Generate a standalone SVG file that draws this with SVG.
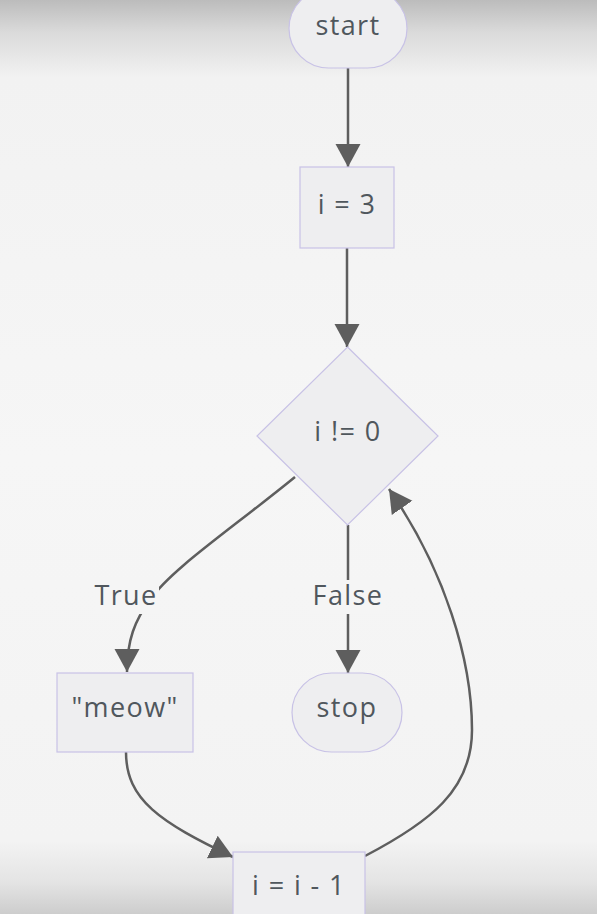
<svg xmlns="http://www.w3.org/2000/svg" width="597" height="914" viewBox="0 0 597 914">
  <defs>
    <linearGradient id="bg" x1="0" y1="0" x2="0" y2="1">
      <stop offset="0" stop-color="#bcbcbc"/>
      <stop offset="0.035" stop-color="#dadada"/>
      <stop offset="0.085" stop-color="#f2f2f2"/>
      <stop offset="0.5" stop-color="#f6f6f6"/>
      <stop offset="0.92" stop-color="#f3f3f3"/>
      <stop offset="0.965" stop-color="#e4e4e4"/>
      <stop offset="1" stop-color="#cdcdcd"/>
    </linearGradient>
    <marker id="arrow" markerUnits="userSpaceOnUse" markerWidth="26" markerHeight="28" viewBox="0 0 26 28" refX="23" refY="14" orient="auto">
      <path d="M0,1.5 L23,14 L0,26.5 Z" fill="#5e5e5e"/>
    </marker>
  </defs>
  <style>
    .node { fill: #eeeef0; stroke: #c8c2e6; stroke-width: 1.2; }
    .lbl { font-family: "Open Sans", "Noto Sans", "DejaVu Sans", sans-serif; font-size: 27px; fill: #50575d; text-anchor: middle; letter-spacing: 1.4px; }
    .edge { fill: none; stroke: #5e5e5e; stroke-width: 2.5; }
    .elbl { fill: #f5f5f5; }
  </style>
  <rect x="0" y="0" width="597" height="914" fill="url(#bg)"/>

  <g id="connectors">
    <path class="edge" d="M348,68 L348,167" marker-end="url(#arrow)"/>
    <path class="edge" d="M347,248 L347,347" marker-end="url(#arrow)"/>
    <path class="edge" d="M295,477 C230,530 170,570 150,600 C135,620 127,640 127,672" marker-end="url(#arrow)"/>
    <path class="edge" d="M348,525 L348,673" marker-end="url(#arrow)"/>
    <path class="edge" d="M126,752 C126,800 160,822 233,857" marker-end="url(#arrow)"/>
    <path class="edge" d="M365,856 C430,822 472,790 472,730 C472,660 445,570 389,489" marker-end="url(#arrow)"/>
    <g id="label-true">
      <rect class="elbl" x="95" y="580" width="64" height="34"/>
      <text class="lbl" x="126" y="605">True</text>
    </g>
    <g id="label-false">
      <rect class="elbl" x="310" y="580" width="76" height="34"/>
      <text class="lbl" x="348" y="605">False</text>
    </g>
  </g>

  <g id="node-start">
    <rect class="node" x="289" y="-11" width="118" height="79" rx="39.5" ry="39.5"/>
    <text class="lbl" x="348" y="35">start</text>
  </g>
  <g id="node-i3">
    <rect class="node" x="300" y="167" width="94" height="81"/>
    <text class="lbl" x="347" y="214">i = 3</text>
  </g>
  <g id="node-cond">
    <polygon class="node" points="347.5,347 438,436 347.5,525 257,436"/>
    <text class="lbl" x="348" y="441">i != 0</text>
  </g>
  <g id="node-meow">
    <rect class="node" x="57" y="673" width="136" height="79"/>
    <text class="lbl" x="125" y="717">"meow"</text>
  </g>
  <g id="node-stop">
    <rect class="node" x="292" y="673" width="110" height="79" rx="39.5" ry="39.5"/>
    <text class="lbl" x="347" y="717">stop</text>
  </g>
  <g id="node-dec">
    <rect class="node" x="233" y="852" width="132" height="80"/>
    <text class="lbl" x="299" y="895">i = i - 1</text>
  </g>
</svg>
